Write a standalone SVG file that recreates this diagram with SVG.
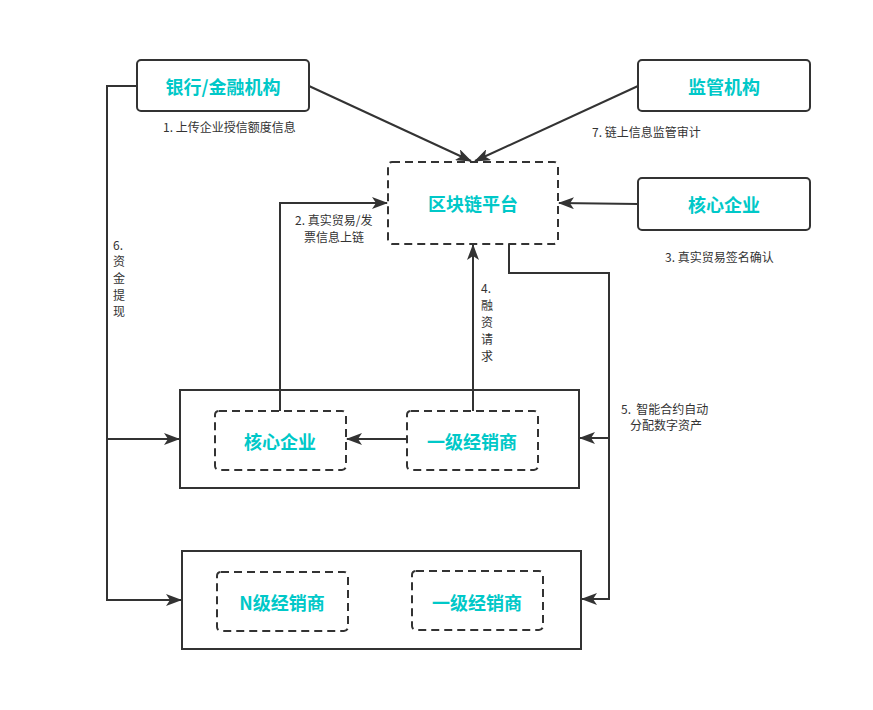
<svg xmlns="http://www.w3.org/2000/svg" width="873" height="710" viewBox="0 0 873 710">
<style>
.box{fill:#fff;stroke:#333;stroke-width:2}
.dash{fill:#fff;stroke:#333;stroke-width:2;stroke-dasharray:8 5}
.grp{fill:#fff;stroke:#333;stroke-width:2}
.t{font-family:"Noto Sans CJK SC","Liberation Sans",sans-serif;font-weight:bold;font-size:18px;fill:#00C8C8;text-anchor:middle;dominant-baseline:central}
.l{font-family:"Noto Sans CJK SC","Liberation Sans",sans-serif;font-size:12px;fill:#333}
.c{fill:none;stroke:#333;stroke-width:2}
</style>
<defs>
<marker id="a" markerWidth="16" markerHeight="12" refX="15" refY="6" orient="auto" markerUnits="userSpaceOnUse">
<path d="M0,0 L16,6 L0,12 L4,6 Z" fill="#333"/>
</marker>
</defs>
<rect width="873" height="710" fill="#fff"/>
<g id="group1"><rect class="grp" x="180" y="390" width="399" height="98"/></g>
<g id="group2"><rect class="grp" x="182" y="551" width="399" height="98"/></g>
<g id="connectors">
<path class="c" d="M309,86 L471,161" marker-end="url(#a)"/>
<path class="c" d="M638,86 L475,161" marker-end="url(#a)"/>
<path class="c" d="M638,204 L559,203" marker-end="url(#a)"/>
<path class="c" d="M407,439 L347,439" marker-end="url(#a)"/>
<path class="c" d="M280,411 L280,203 L387,203" marker-end="url(#a)"/>
<path class="c" d="M473,411 L473,245" marker-end="url(#a)"/>
<path class="c" d="M509,244 L509,273 L609,273 L609,599 L582,599" marker-end="url(#a)"/>
<path class="c" d="M609,438 L580,438" marker-end="url(#a)"/>
<path class="c" d="M137,86 L107,86 L107,600 L181,600" marker-end="url(#a)"/>
<path class="c" d="M107,439 L179,439" marker-end="url(#a)"/>
</g>
<g id="bank"><rect class="box" x="137" y="60" width="172" height="51" rx="4"/><text class="t" x="223" y="86">银行/金融机构</text></g>
<g id="regulator"><rect class="box" x="638" y="60" width="172" height="51" rx="4"/><text class="t" x="724" y="86">监管机构</text></g>
<g id="core-top"><rect class="box" x="638" y="178" width="172" height="52" rx="4"/><text class="t" x="724" y="204">核心企业</text></g>
<g id="platform"><rect class="dash" x="388" y="162" width="170" height="82" rx="4"/><text class="t" x="473" y="203">区块链平台</text></g>
<g id="core1"><rect class="dash" x="215" y="411" width="131" height="59" rx="4"/><text class="t" x="280" y="441">核心企业</text></g>
<g id="dist1"><rect class="dash" x="407" y="411" width="131" height="59" rx="4"/><text class="t" x="472" y="441">一级经销商</text></g>
<g id="distN"><rect class="dash" x="217" y="572" width="131" height="59" rx="4"/><text class="t" x="282" y="602">N级经销商</text></g>
<g id="dist1b"><rect class="dash" x="412" y="571" width="131" height="59" rx="4"/><text class="t" x="477" y="602">一级经销商</text></g>
<g id="labels">
<text class="l" x="163" y="132">1. 上传企业授信额度信息</text>
<text class="l" x="592" y="137">7. 链上信息监管审计</text>
<text class="l" x="665" y="262">3. 真实贸易签名确认</text>
<text class="l" x="295" y="225">2. 真实贸易/发</text>
<text class="l" x="304" y="242">票信息上链</text>
<text class="l" x="481" y="293">4.</text>
<text class="l" x="481" y="310">融</text>
<text class="l" x="481" y="327">资</text>
<text class="l" x="481" y="344">请</text>
<text class="l" x="481" y="361">求</text>
<text class="l" x="621" y="414" xml:space="preserve">5.  智能合约自动</text>
<text class="l" x="630" y="430">分配数字资产</text>
<text class="l" x="113" y="250">6.</text>
<text class="l" x="113" y="266">资</text>
<text class="l" x="113" y="283">金</text>
<text class="l" x="113" y="300">提</text>
<text class="l" x="113" y="316">现</text>
</g>
</svg>
